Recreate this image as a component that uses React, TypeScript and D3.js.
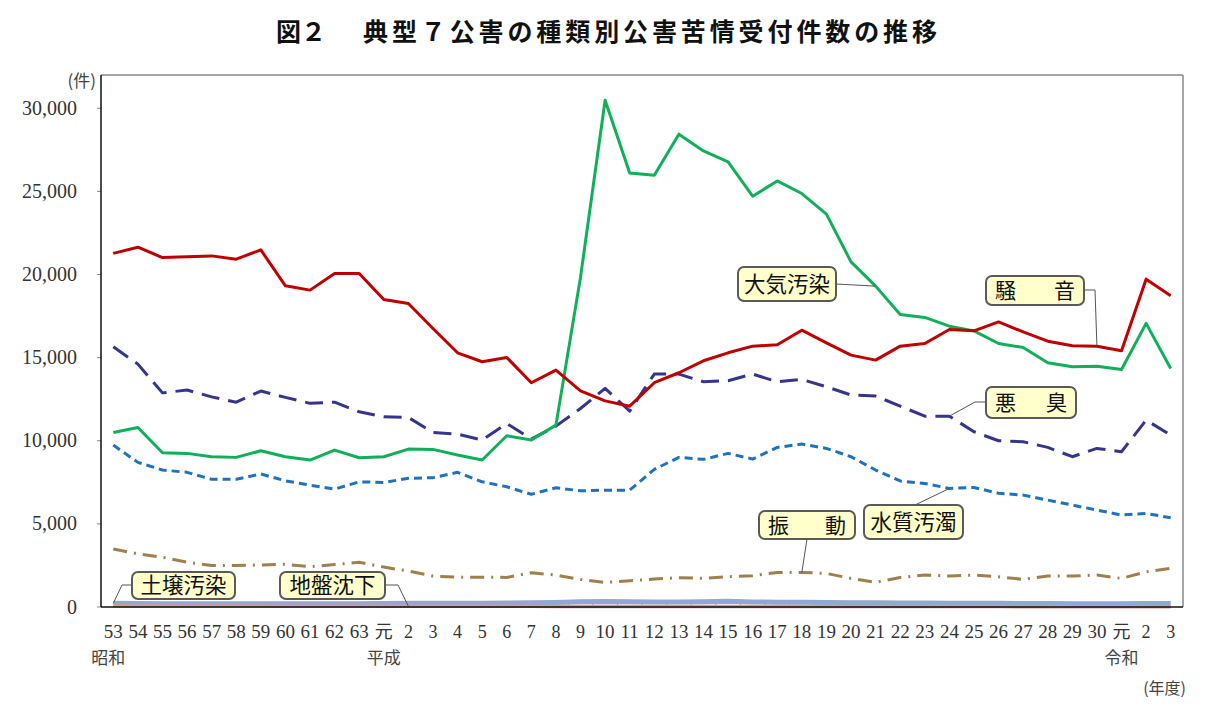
import React from 'react';
import * as d3 from 'd3';

// ---- data ----
const yearLabels = ['53','54','55','56','57','58','59','60','61','62','63','元','2','3','4','5','6','7','8','9','10','11','12','13','14','15','16','17','18','19','20','21','22','23','24','25','26','27','28','29','30','元','2','3'];
const eraLabels = [
  { index: 0, text: '昭和' },
  { index: 11, text: '平成' },
  { index: 41, text: '令和' },
];
const yTicks = [0, 5000, 10000, 15000, 20000, 25000, 30000];

const noise = [21270,21640,21020,21070,21120,20920,21480,19320,19060,20060,20060,18500,18260,16750,15290,14750,15010,13490,14250,13000,12400,12080,13490,14090,14810,15290,15690,15770,16650,15890,15150,14850,15690,15850,16690,16610,17150,16550,15990,15710,15690,15410,19720,18720];
const air = [10500,10800,9280,9240,9040,9000,9400,9040,8840,9440,8980,9040,9500,9480,9140,8840,10300,10040,10940,19840,30480,26110,25970,28440,27430,26770,24710,25630,24870,23630,20760,19300,17600,17420,16890,16610,15850,15610,14690,14450,14480,14290,17060,14350];
const odor = [15650,14610,12880,13050,12640,12320,12990,12610,12250,12320,11740,11440,11400,10500,10400,10040,11040,10100,10880,11940,13150,11780,14010,14010,13550,13610,14010,13550,13690,13250,12750,12690,12080,11480,11480,10540,10000,9940,9600,9040,9540,9340,11240,10340];
const water = [9740,8700,8240,8100,7680,7680,8000,7590,7330,7090,7530,7490,7740,7780,8100,7530,7230,6780,7170,6990,7030,7030,8280,9000,8880,9240,8900,9600,9800,9540,9040,8240,7580,7430,7130,7190,6840,6730,6430,6130,5830,5530,5630,5370];
const vibration = [3490,3200,2990,2700,2490,2490,2530,2570,2420,2550,2690,2400,2160,1860,1790,1790,1780,2060,1920,1660,1480,1580,1680,1760,1720,1820,1880,2080,2080,2020,1720,1480,1780,1920,1860,1920,1820,1660,1860,1860,1920,1720,2120,2320];
const soil = [220,210,200,200,190,190,200,200,190,200,200,210,220,220,230,230,240,250,270,310,330,310,300,300,310,340,300,290,280,270,260,250,240,240,230,230,220,210,210,200,200,200,210,210];
const subsidence = [70,65,60,60,55,55,55,50,50,50,50,45,45,45,40,40,40,40,35,35,35,35,35,30,30,30,30,30,30,25,25,25,25,25,25,25,25,20,20,20,20,20,20,20];

const series = [
  { name: '振動', values: vibration, color: '#A0804A', width: 3, dash: '14,7,2,7' },
  { name: '水質汚濁', values: water, color: '#1F72C0', width: 3, dash: '8,5' },
  { name: '悪臭', values: odor, color: '#35358F', width: 3, dash: '18,9' },
  { name: '大気汚染', values: air, color: '#10B05A', width: 3, dash: '' },
  { name: '騒音', values: noise, color: '#C00000', width: 3, dash: '' },
  { name: '土壌汚染', values: soil, color: '#8FA8D6', width: 5, dash: '' },
  { name: '地盤沈下', values: subsidence, color: '#D59A9A', width: 3.5, dash: '' },
];

export default function App() {
  const W = 1214, H = 712;
  const left = 101, right = 1183, top = 75, bottom = 607;
  const x = d3.scaleBand<number>().domain(d3.range(yearLabels.length)).range([left, right]);
  const y = d3.scaleLinear().domain([0, 32000]).range([bottom, top]);
  const cx = (i: number) => (x(i) as number) + x.bandwidth() / 2;
  const line = d3.line<number>().x((_, i) => cx(i)).y((v) => y(v));

  const serif = '"Liberation Serif", "DejaVu Serif", serif';
  const gothic = '"Noto Sans CJK JP", "Noto Sans", sans-serif';

  const Callout = ({ x0, y0, w, h, text, spread }: { x0: number; y0: number; w: number; h: number; text: string; spread?: boolean }) => (
    <g>
      <rect x={x0} y={y0} width={w} height={h} rx={6} ry={6} fill="#FFFFCC" stroke="#5a5a5a" strokeWidth={2} />
      {spread ? (
        <>
          <text x={x0 + 9} y={y0 + h / 2 + 7.5} fontSize={21} fontFamily={gothic} fill="#111">{text[0]}</text>
          <text x={x0 + w - 9} y={y0 + h / 2 + 7.5} fontSize={21} fontFamily={gothic} fill="#111" textAnchor="end">{text[text.length - 1]}</text>
        </>
      ) : (
        <text x={x0 + w / 2} y={y0 + h / 2 + 7.5} fontSize={21.5} fontFamily={gothic} fill="#111" textAnchor="middle">{text}</text>
      )}
    </g>
  );

  const leader = (pts: [number, number][]) => (
    <polyline points={pts.map((p) => p.join(',')).join(' ')} fill="none" stroke="#555" strokeWidth={1} />
  );

  return (
    <svg width={W} height={H} style={{ position: 'absolute', left: 0, top: 0, background: '#fff' }}>
      {/* title */}
      <text x={276} y={41} fontSize={25} fontWeight={700} fontFamily={gothic} fill="#111">図２</text>
      <text x={363} y={41} fontSize={25} fontWeight={700} fontFamily={gothic} fill="#111" textLength={574} lengthAdjust="spacing">典型７公害の種類別公害苦情受付件数の推移</text>

      {/* frame */}
      <line x1={left} y1={top} x2={right} y2={top} stroke="#888" strokeWidth={1.5} />
      <line x1={right} y1={top} x2={right} y2={bottom} stroke="#888" strokeWidth={1.5} />

      {/* y ticks */}
      {yTicks.map((t) => (
        <g key={t}>
          <line x1={left - 4} x2={left} y1={y(t)} y2={y(t)} stroke="#888" />
          <text x={77} y={y(t) + 6.5} fontSize={20} fontFamily={serif} fill="#333" textAnchor="end">{d3.format(',')(t)}</text>
        </g>
      ))}
      <text x={96} y={87} fontSize={17} fontFamily={gothic} fill="#444" textAnchor="end">(件)</text>

      {/* x ticks */}
      {d3.range(1, yearLabels.length).map((i) => (
        <line key={i} x1={x(i) as number} x2={x(i) as number} y1={bottom} y2={bottom - 5} stroke="#888" />
      ))}
      {yearLabels.map((l, i) => (
        <text key={i} x={cx(i)} y={638} fontSize={l.length > 1 ? 19 : 18} fontFamily={l === '元' ? gothic : serif} fill="#333" textAnchor="middle">{l}</text>
      ))}
      {eraLabels.map((e) => (
        <text key={e.text} x={cx(e.index) - (e.index === 0 ? 5 : 0)} y={664} fontSize={17} fontFamily={gothic} fill="#444" textAnchor="middle">{e.text}</text>
      ))}
      <text x={1186} y={694} fontSize={16} fontFamily={gothic} fill="#444" textAnchor="end">(年度)</text>

      {/* series */}
      {series.map((s) => (
        <path key={s.name} d={line(s.values) as string} fill="none" stroke={s.color} strokeWidth={s.width} strokeDasharray={s.dash || undefined} strokeLinejoin="round" />
      ))}

      {/* axes */}
      <line x1={left} y1={top} x2={left} y2={bottom} stroke="#111" strokeWidth={1.5} />
      <line x1={left} y1={bottom} x2={right} y2={bottom} stroke="#111" strokeWidth={1.5} />

      {/* callouts */}
      {leader([[836, 284], [cx(31), y(air[31])]])}
      <Callout x0={738} y0={267} w={98} h={34} text="大気汚染" />

      {leader([[1084, 290], [1095, 290], [cx(40), y(noise[40])]])}
      <Callout x0={986} y0={276} w={98} h={29} text="騒音" spread />

      {leader([[986, 402], [975, 402], [cx(34), y(odor[34])]])}
      <Callout x0={986} y0={387} w={90} h={31} text="悪臭" spread />

      {leader([[915, 505], [cx(34), y(water[34])]])}
      <Callout x0={864} y0={505} w={99} h={34} text="水質汚濁" />

      {leader([[807, 539], [cx(28), y(vibration[28])]])}
      <Callout x0={759} y0={511} w={96} h={28} text="振動" spread />

      {leader([[132, 585], [122, 585], [cx(0), y(soil[0])]])}
      <Callout x0={132} y0={572} w={103} h={27} text="土壌汚染" />

      {leader([[385, 585], [398, 585], [cx(12), y(subsidence[12])]])}
      <Callout x0={280} y0={572} w={105} h={27} text="地盤沈下" />
    </svg>
  );
}
